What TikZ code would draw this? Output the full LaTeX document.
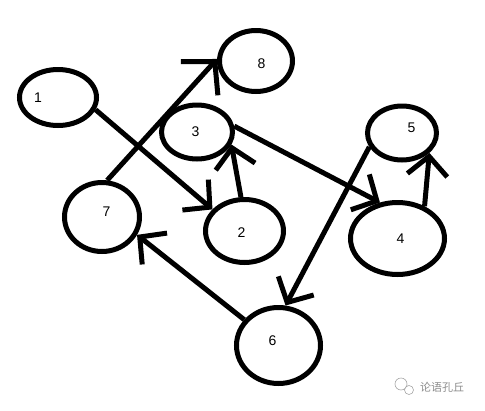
\documentclass[tikz,border=0pt]{standalone}
\usepackage{fontspec}
\setmainfont{Liberation Sans}
\newfontfamily\cjk{Noto Sans CJK SC}
\usetikzlibrary{arrows.meta,shapes.geometric}
\tikzset{
  vert/.style={draw, ellipse, line width=5pt, inner sep=0pt},
  arr/.style={-{Straight Barb[length=19pt, width=40pt]}, line width=5pt},
  arrbig/.style={-{Straight Barb[length=23pt, width=50pt]}, line width=5pt},
  lbl/.style={font=\fontsize{14}{14}\selectfont, inner sep=0pt},
  wm/.style={font=\cjk\fontsize{11}{11}\selectfont, text=black!45, inner sep=0pt}
}
\begin{document}
\begin{tikzpicture}[x=1pt, y=-1pt]
\useasboundingbox (0,0) rectangle (485,410);
% vertices
\node[vert, minimum width=77pt, minimum height=56pt, label={[lbl, xshift=-20pt]center:1}] (n1) at (58,97.5) {};
\node[vert, minimum width=78pt, minimum height=63pt, label={[lbl, xshift=-3pt, yshift=-1.5pt]center:2}] (n2) at (244.5,231) {};
\node[vert, minimum width=71pt, minimum height=54pt, label={[lbl, xshift=-1.5pt]center:3}] (n3) at (197,132) {};
\node[vert, minimum width=94pt, minimum height=72pt, label={[lbl, xshift=3pt]center:4}] (n4) at (397.5,238.5) {};
\node[vert, minimum width=69pt, minimum height=54pt, label={[lbl, xshift=9.5pt, yshift=5.5pt]center:5}] (n5) at (402,133) {};
\node[vert, minimum width=84pt, minimum height=76pt, label={[lbl, xshift=-6pt, yshift=5pt]center:6}] (n6) at (278.5,345.5) {};
\node[vert, minimum width=75pt, minimum height=69pt, label={[lbl, xshift=4.5pt, yshift=5pt]center:7}] (n7) at (102,217) {};
\node[vert, minimum width=73pt, minimum height=61pt, label={[lbl, xshift=5.5pt, yshift=-2.5pt]center:8}] (n8) at (256,61) {};
% edges
\draw[arr] (n1.-18) -- (n2.146);
\draw[arrbig] (n7.82) -- (n8.177);
\draw[arr] (n2.96) -- (n3.-20);
\draw[arr] (n3.9) -- (n4.116);
\draw[arr] (n4.50) -- (n5.-36);
\draw[arr] (n5.203) -- (n6.80);
\draw[arr] (n6.143) -- (n7.-27);
% watermark
\draw[black!35, line width=0.6pt] (401,384) circle (6) (409,390) circle (4.5);
\node[wm] (mark) at (442,387) {论语孔丘};
\end{tikzpicture}
\end{document}
